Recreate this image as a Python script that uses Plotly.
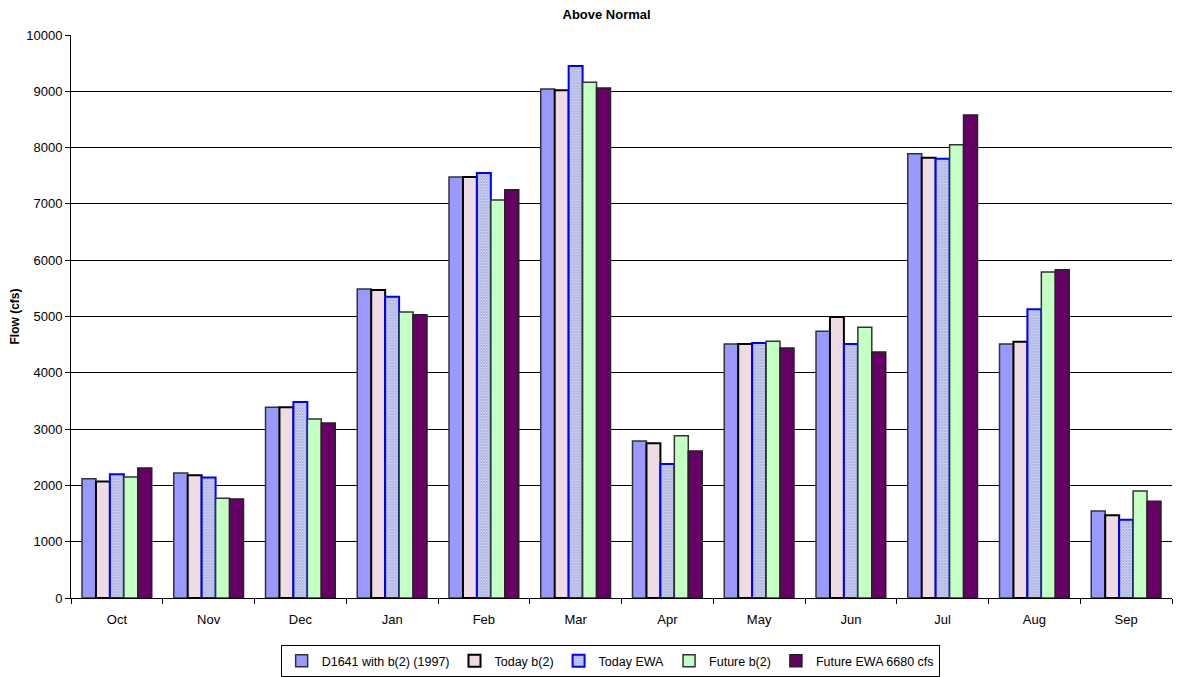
import plotly.graph_objects as go

months = ["Oct", "Nov", "Dec", "Jan", "Feb", "Mar", "Apr", "May", "Jun", "Jul", "Aug", "Sep"]
d1641 = [2120, 2220, 3390, 5490, 7480, 9040, 2790, 4510, 4740, 7890, 4510, 1545]
today_b2 = [2070, 2180, 3390, 5470, 7480, 9020, 2750, 4510, 4990, 7820, 4550, 1470]
today_ewa = [2200, 2140, 3480, 5350, 7550, 9450, 2380, 4530, 4510, 7800, 5130, 1390]
future_b2 = [2150, 1770, 3180, 5080, 7070, 9160, 2880, 4560, 4810, 8050, 5790, 1900]
future_ewa = [2310, 1760, 3110, 5030, 7250, 9060, 2610, 4440, 4370, 8580, 5830, 1720]

fig = go.Figure()
fig.add_bar(name="D1641 with b(2) (1997)", x=months, y=d1641,
            marker=dict(color="#9999FF", line=dict(color="#333333", width=1.5)))
fig.add_bar(name="Today b(2)", x=months, y=today_b2,
            marker=dict(color="white", line=dict(color="black", width=2),
                        pattern=dict(shape="+", fgcolor="#C07090", bgcolor="white", size=2, solidity=0.5)))
fig.add_bar(name="Today EWA", x=months, y=today_ewa,
            marker=dict(color="white", line=dict(color="#0000FF", width=2),
                        pattern=dict(shape="x", fgcolor="#5060C0", bgcolor="white", size=2, solidity=0.8)))
fig.add_bar(name="Future b(2)", x=months, y=future_b2,
            marker=dict(color="#C4FFC4", line=dict(color="#333333", width=1.5)))
fig.add_bar(name="Future EWA 6680 cfs", x=months, y=future_ewa,
            marker=dict(color="#660066", line=dict(color="#222222", width=1.5)))

fig.update_layout(
    width=1183, height=669,
    barmode="group", bargap=0.24, bargroupgap=0,
    plot_bgcolor="white", paper_bgcolor="white",
    font=dict(family="Liberation Sans, Arial, sans-serif", size=13, color="black"),
    title=dict(text="<b>Above Normal</b>", x=0.506, xanchor="center", y=0.997, yanchor="top",
               font=dict(size=13)),
    margin=dict(l=63, r=19, t=27, b=79, autoexpand=False),
    legend=dict(orientation="h", xref="container", x=0.509, xanchor="center", yref="container",
                y=-0.008, yanchor="bottom",
                bordercolor="black", borderwidth=1, font=dict(size=12.5),
                itemwidth=30, traceorder="normal", tracegroupgap=0),
    xaxis=dict(showline=True, linecolor="black", linewidth=1, ticks="outside", automargin=False,
               tickson="boundaries", ticklen=5, tickcolor="black", mirror=False,
               ticklabelstandoff=9),
    yaxis=dict(range=[0, 10000], dtick=1000, tickformat="d", showgrid=True, gridcolor="black", gridwidth=1,
               showline=True, linecolor="black", linewidth=1, ticks="outside", ticklen=5,
               tickcolor="black", zeroline=False, automargin=False,
               title=dict(text="<b>Flow (cfs)</b>", font=dict(size=12), standoff=10)),
)
fig.write_html("out.html")
